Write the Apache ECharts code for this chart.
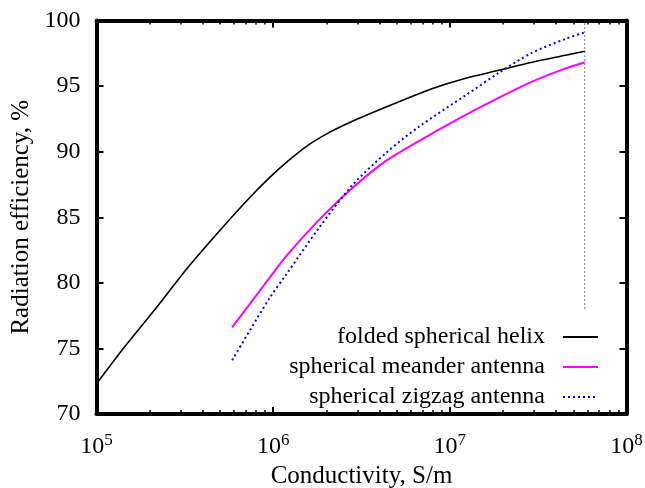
<!DOCTYPE html>
<html>
<head>
<meta charset="utf-8">
<script src="https://cdn.jsdelivr.net/npm/echarts@6/dist/echarts.min.js"></script>
<style>html,body{margin:0;padding:0;background:#fff;}#c{width:645px;height:488px;}</style>
</head>
<body>
<div id="c"></div>
<script>
// Conductivity (S/m) sample points
const helixSigma = [1e5, 1.4e5, 2.18e5, 3.35e5, 5.15e5, 7.31e5, 9.5e5, 1.23e6, 1.58e6, 2.07e6, 2.69e6, 3.47e6, 5.37e6, 7.91e6, 1.23e7, 1.89e7, 2.88e7, 4.52e7, 5.8e7];
const helixEff   = [72.3, 74.9, 78.1, 81.3, 84.2, 86.45, 88.0, 89.35, 90.5, 91.45, 92.2, 92.85, 93.9, 94.8, 95.6, 96.2, 96.8, 97.35, 97.65];
const antSigma   = [5.86e5, 9.5e5, 1.18e6, 1.82e6, 2.79e6, 4.35e6, 6.68e6, 1.23e7, 1.89e7, 2.88e7, 4.52e7, 5.8e7];
const meanderEff = [76.6, 80.35, 82.0, 84.8, 87.2, 89.3, 90.8, 92.8, 94.1, 95.3, 96.35, 96.8];
const zigzagEff  = [74.1, 78.8, 80.6, 84.2, 87.4, 89.9, 91.9, 94.3, 96.0, 97.5, 98.6, 99.1];
const copperSigma = [5.8e7, 5.8e7];
const copperEff   = [78, 100];
const seriesNames = ['folded spherical helix', 'spherical meander antenna', 'spherical zigzag antenna'];
const xMinorTicks = [2e5,3e5,4e5,5e5,6e5,7e5,8e5,9e5,2e6,3e6,4e6,5e6,6e6,7e6,8e6,9e6,2e7,3e7,4e7,5e7,6e7,7e7,8e7,9e7];

const FONT = 'Liberation Serif';
const pairs = (xs, ys) => xs.map((x, i) => [x, ys[i]]);

const chart = echarts.init(document.getElementById('c'), null, {renderer: 'canvas'});
const baseX = {
  type: 'log', logBase: 10, min: 1e5, max: 1e8,
  splitLine: {show: false},
  axisLine: {show: true, onZero: false, lineStyle: {color: '#000', width: 4}},
  axisTick: {show: true, inside: true, length: 7, lineStyle: {color: '#000', width: 2}},
  axisLabel: {show: false}
};
const minorX = (pos) => ({
  type: 'log', logBase: 10, min: 1e5, max: 1e8, position: pos,
  splitLine: {show: false},
  axisLine: {show: false},
  axisTick: {show: true, inside: true, length: 4, customValues: xMinorTicks, lineStyle: {color: '#000', width: 1.5}},
  axisLabel: {show: false}
});
const baseY = {
  type: 'value', min: 70, max: 100, interval: 5,
  splitLine: {show: false},
  axisLine: {show: true, onZero: false, lineStyle: {color: '#000', width: 4}},
  axisTick: {show: true, inside: true, length: 7, lineStyle: {color: '#000', width: 2}},
  axisLabel: {show: false}
};

chart.setOption({
  animation: false,
  backgroundColor: '#fff',
  textStyle: {fontFamily: FONT},
  grid: {left: 96.5, right: 18.5, top: 20.5, bottom: 74, containLabel: false, outerBoundsMode: 'none'},
  legend: {
    orient: 'vertical', right: 41, top: 320, align: 'right',
    itemWidth: 35, itemHeight: 24, itemGap: 6,
    data: seriesNames,
    itemStyle: {opacity: 0},
    textStyle: {fontFamily: FONT, fontSize: 24, color: '#000', padding: [0, 13, 0, 0]}
  },
  xAxis: [
    Object.assign({}, baseX, {
      position: 'bottom',
      name: 'Conductivity, S/m', nameLocation: 'middle', nameGap: 49,
      nameTextStyle: {fontFamily: FONT, fontSize: 25, color: '#000'},
      axisLabel: {
        show: true, margin: 18, color: '#000',
        formatter: v => '{b|10}{s|' + Math.round(Math.log10(v)) + '}',
        rich: {
          b: {fontFamily: FONT, fontSize: 24, color: '#000'},
          s: {fontFamily: FONT, fontSize: 17, color: '#000', padding: [0, 0, 13, 0]}
        }
      }
    }),
    Object.assign({}, baseX, {position: 'top'}),
    minorX('bottom'),
    minorX('top')
  ],
  yAxis: [
    Object.assign({}, baseY, {
      position: 'left',
      name: 'Radiation efficiency, %', nameLocation: 'middle', nameGap: 62,
      nameTextStyle: {fontFamily: FONT, fontSize: 25, color: '#000'},
      axisLabel: {show: true, margin: 16, fontFamily: FONT, fontSize: 24, color: '#000'}
    }),
    Object.assign({}, baseY, {position: 'right'})
  ],
  series: [
    {
      name: seriesNames[0], type: 'line', xAxisIndex: 0, yAxisIndex: 0,
      data: pairs(helixSigma, helixEff), smooth: 0.3, symbol: 'none',
      lineStyle: {color: '#000', width: 1.6}, itemStyle: {color: '#000'}
    },
    {
      name: seriesNames[1], type: 'line', xAxisIndex: 0, yAxisIndex: 0,
      data: pairs(antSigma, meanderEff), smooth: 0.3, symbol: 'none',
      lineStyle: {color: '#ff00ff', width: 2}, itemStyle: {color: '#ff00ff'}
    },
    {
      name: seriesNames[2], type: 'line', xAxisIndex: 0, yAxisIndex: 0,
      data: pairs(antSigma, zigzagEff), smooth: 0.3, symbol: 'none',
      lineStyle: {color: '#0000ff', width: 2, type: [2, 3]}, itemStyle: {color: '#0000ff'}
    },
    {
      name: 'copper', type: 'line', xAxisIndex: 0, yAxisIndex: 0,
      data: pairs(copperSigma, copperEff), symbol: 'none',
      lineStyle: {color: '#888', width: 1.2, type: [2, 2]}, z: 1
    }
  ]
});
</script>
</body>
</html>
